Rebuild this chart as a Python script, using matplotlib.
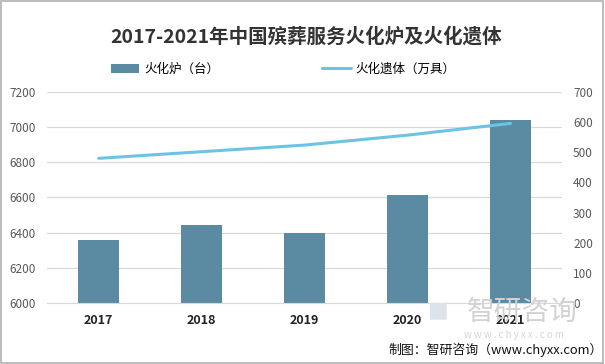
import matplotlib.pyplot as plt
from matplotlib.patches import Rectangle

plt.rcParams['font.family'] = ['Noto Sans CJK SC', 'DejaVu Sans']

# -------- DATA --------
years = ["2017", "2018", "2019", "2020", "2021"]
furnaces = [6357, 6443, 6398, 6614, 7041]      # 火化炉（台）
cremations = [480, 502, 524, 557, 596]         # 火化遗体（万具）

bar_color = "#5b8ba3"
line_color = "#6cc3e3"
grid_color = "#d9d9d9"
tick_color = "#595959"

# -------- FIGURE --------
fig = plt.figure(figsize=(6.05, 3.64), dpi=100)
ax = fig.add_axes([0.078, 0.168, 0.851, 0.579])
ax2 = ax.twinx()

x = range(len(years))
bars = ax.bar(x, furnaces, width=0.4, color=bar_color, label="火化炉（台）", zorder=2)
line, = ax2.plot(x, cremations, color=line_color, linewidth=2.2, label="火化遗体（万具）",
                 solid_capstyle="round")

ax.set_xlim(-0.5, len(years) - 0.5)
ax.set_ylim(6000, 7200)
ax.set_yticks(range(6000, 7201, 200))
ax2.set_ylim(0, 700)
ax2.set_yticks(range(0, 701, 100))

ax.set_xticks(list(x))
ax.set_xticklabels(years, fontweight="bold", fontsize=9, color="#222222")
ax.tick_params(axis="x", length=0, pad=8)
ax.tick_params(axis="y", length=0, labelsize=8.5, labelcolor=tick_color, pad=8)
ax2.tick_params(axis="y", length=0, labelsize=8.5, labelcolor=tick_color, pad=8)

ax.grid(axis="y", color=grid_color, linewidth=0.9, zorder=0)
ax.set_axisbelow(True)
for a in (ax, ax2):
    for s in a.spines.values():
        s.set_visible(False)
ax.spines["bottom"].set_visible(True)
ax.spines["bottom"].set_color(grid_color)

# -------- TITLE / LEGEND --------
fig.text(0.506, 0.9, "2017-2021年中国殡葬服务火化炉及火化遗体", ha="center", va="center",
         fontsize=14, fontweight="bold", color="#333333")
fig.legend([bars, line], ["火化炉（台）", "火化遗体（万具）"], loc="center",
           bbox_to_anchor=(0.468, 0.81), ncol=2, frameon=False, fontsize=9,
           columnspacing=8.2, handlelength=2.3, handleheight=0.8, handletextpad=0.4)

# -------- WATERMARK / SOURCE --------
fig.text(0.725, 0.143, "■", ha="center", va="center", fontsize=15, color="#dde3ea")
fig.text(0.863, 0.143, "智研咨询", ha="center", va="center", fontsize=20, color="#d2d2d2")
fig.text(0.85, 0.08, "w w w . c h y x x . c o m", ha="center", va="center", fontsize=7,
         color="#d5d5d5")
fig.text(0.996, 0.038, "制图：智研咨询（www.chyxx.com）", ha="right", va="center",
         fontsize=9.3, color="#111111")

fig.patches.append(Rectangle((0.002, 0.003), 0.995, 0.994, transform=fig.transFigure,
                             fill=False, edgecolor="#b0b0b0", linewidth=1.2))

fig.savefig("out.png", dpi=100)
